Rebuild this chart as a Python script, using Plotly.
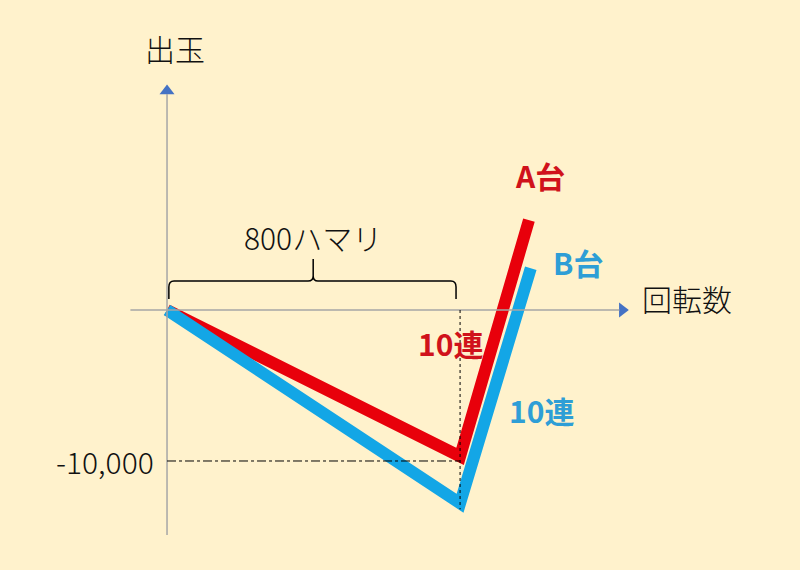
import plotly.graph_objects as go

# 回転数 (spins) and 出玉 (balls) for each machine
spins_a = [0, 800, 988]
dedama_a = [0, -9700, 5950]
spins_b = [0, 800, 993]
dedama_b = [0, -12800, 2760]

hamari = 800
ref_level = -10000
ref_label = "-10,000"

RED = "#E8000B"
RED_TXT = "#D0121B"
BLUE = "#13A6E6"
BLUE_TXT = "#2E9ED6"
AXIS_GREY = "#A6A6A6"
ARROW_BLUE = "#4472C4"
BG = "#FFF2CC"
FONT = "Noto Sans CJK JP"

fig = go.Figure()

# axes drawn by hand (arrow style)
fig.add_shape(type="line", x0=-100, x1=1235, y0=0, y1=0, line=dict(color=AXIS_GREY, width=1.5))
fig.add_shape(type="line", x0=0, x1=0, y0=-14900, y1=14300, line=dict(color=AXIS_GREY, width=1.5))
fig.add_trace(go.Scatter(x=[1243], y=[0], mode="markers", hoverinfo="skip",
                         marker=dict(symbol="triangle-right", size=13, color=ARROW_BLUE)))
fig.add_trace(go.Scatter(x=[0], y=[14500], mode="markers", hoverinfo="skip",
                         marker=dict(symbol="triangle-up", size=13, color=ARROW_BLUE)))

# guide lines
fig.add_shape(type="line", x0=hamari, x1=hamari, y0=0, y1=-13200,
              line=dict(color="black", width=1, dash="dot"))
fig.add_shape(type="line", x0=0, x1=hamari, y0=ref_level, y1=ref_level,
              line=dict(color="black", width=1, dash="dashdot"))

# brace over the 800 hamari span
fig.add_shape(type="path",
              path="M 5 728 L 5 1520 Q 5 1921 19 1921 L 385 1921 Q 399 1921 399 2252 L 399 3377 "
                   "M 399 2252 Q 399 1921 412 1921 L 775 1921 Q 789 1921 789 1520 L 789 728",
              line=dict(color="black", width=1.5))

fig.add_trace(go.Scatter(x=spins_a, y=dedama_a, mode="lines", hoverinfo="skip",
                         line=dict(color=RED, width=12)))
fig.add_trace(go.Scatter(x=spins_b, y=dedama_b, mode="lines", hoverinfo="skip",
                         line=dict(color=BLUE, width=12)))

black_font = dict(family=FONT, size=30, color="#111111", weight=300)
red_font = dict(family=FONT, size=30, color=RED_TXT, weight="bold")
blue_font = dict(family=FONT, size=30, color=BLUE_TXT, weight="bold")
labels = [
    dict(x=22, y=17350, text="出玉", font=black_font),
    dict(x=1420, y=795, text="回転数", font=black_font),
    dict(x=399, y=4834, text="800ハマリ", font=black_font),
    dict(x=-30, y=ref_level, text=ref_label, font=black_font, xanchor="right"),
    dict(x=1018, y=8940, text="A台", font=red_font),
    dict(x=1122, y=3179, text="B台", font=blue_font),
    dict(x=773, y=-2185, text="10連", font=red_font),
    dict(x=1021, y=-6620, text="10連", font=blue_font),
]
for lab in labels:
    fig.add_annotation(showarrow=False, xref="x", yref="y", **lab)

fig.update_xaxes(range=[-456, 1728], visible=False)
fig.update_yaxes(range=[-17219, 20530], visible=False)
fig.update_layout(
    width=800, height=570,
    margin=dict(l=0, r=0, t=0, b=0),
    paper_bgcolor=BG, plot_bgcolor=BG,
    showlegend=False,
)

fig.write_html("out.html", config={"displayModeBar": False},
               post_script="document.body.style.margin='0';")
